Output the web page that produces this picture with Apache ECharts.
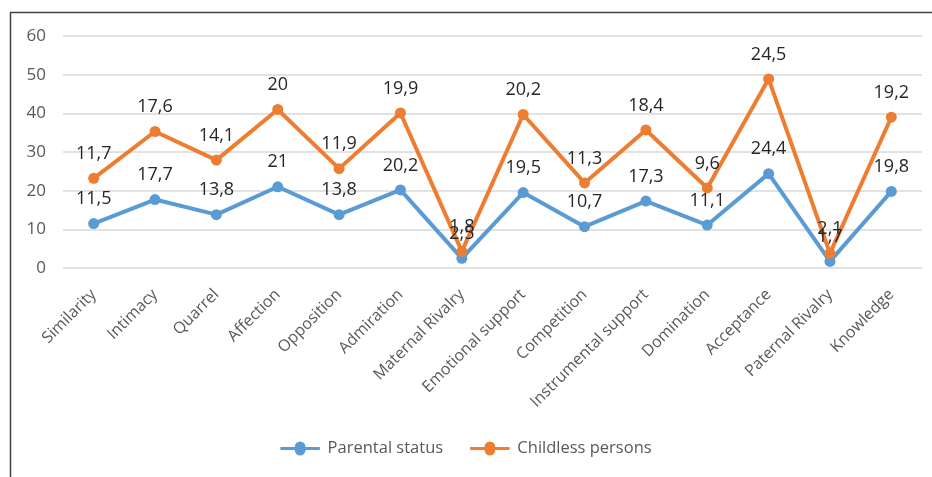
<!DOCTYPE html>
<html>
<head>
<meta charset="utf-8">
<script src="https://cdn.jsdelivr.net/npm/echarts@6/dist/echarts.min.js"></script>
<style>
html,body{margin:0;padding:0;background:#fff;}
#c{width:932px;height:477px;}
</style>
</head>
<body>
<div id="c"></div>
<script>
const categories = ['Similarity','Intimacy','Quarrel','Affection','Opposition','Admiration','Maternal Rivalry','Emotional support','Competition','Instrumental support','Domination','Acceptance','Paternal Rivalry','Knowledge'];
const parentalStatus = [11.5,17.7,13.8,21,13.8,20.2,2.5,19.5,10.7,17.3,11.1,24.4,1.7,19.8];
const childlessPersons = [11.7,17.6,14.1,20,11.9,19.9,1.8,20.2,11.3,18.4,9.6,24.5,2.1,19.2];
const yTicks = {min:0, max:60, interval:10};

const fmt = p => String(p.value).replace('.', ',');
const font = "'Open Sans', 'Noto Sans', sans-serif";

const chart = echarts.init(document.getElementById('c'));
chart.setOption({
  animation:false,
  backgroundColor:'#ffffff',
  textStyle:{fontFamily:font},
  graphic:[
    {type:'line', shape:{x1:10.5,y1:12.5,x2:10.5,y2:477}, style:{stroke:'#404040',lineWidth:1.5}},
    {type:'line', shape:{x1:10,y1:12.5,x2:932,y2:12.5}, style:{stroke:'#404040',lineWidth:1.5}}
  ],
  grid:{left:63,right:10,top:36,bottom:209,containLabel:false},
  legend:{
    top:435,
    left:'center',
    itemWidth:45,
    itemHeight:14,
    itemGap:27,
    textStyle:{color:'#595959',fontSize:16.5,fontFamily:font},
    data:[
      {name:'Parental status', icon:'path://M0,5.2 L16,5.2 A6,6 0 1 1 28,5.2 L44,5.2 L44,8.8 L28,8.8 A6,6 0 1 1 16,8.8 L0,8.8 Z'},
      {name:'Childless persons', icon:'path://M0,5.2 L16,5.2 A6,6 0 1 1 28,5.2 L44,5.2 L44,8.8 L28,8.8 A6,6 0 1 1 16,8.8 L0,8.8 Z'}
    ]
  },
  xAxis:{
    type:'category',
    data:categories,
    boundaryGap:true,
    axisLine:{show:false},
    axisTick:{show:false},
    axisLabel:{rotate:45,color:'#595959',fontSize:16,margin:24,interval:0,fontFamily:font}
  },
  yAxis:{
    type:'value',
    min:yTicks.min,max:yTicks.max,interval:yTicks.interval,
    axisLine:{show:false},
    axisTick:{show:false},
    axisLabel:{color:'#595959',fontSize:17,margin:17,fontFamily:font},
    splitLine:{lineStyle:{color:'#D9D9D9',width:1.5}}
  },
  series:[
    {
      name:'Parental status',
      type:'line',
      stack:'total',
      data:parentalStatus,
      symbol:'circle',
      symbolSize:11,
      lineStyle:{color:'#5B9BD5',width:4},
      itemStyle:{color:'#5B9BD5'},
      label:{show:true,position:'top',distance:10,formatter:fmt,color:'#262626',fontSize:18,fontFamily:font}
    },
    {
      name:'Childless persons',
      type:'line',
      stack:'total',
      data:childlessPersons,
      symbol:'circle',
      symbolSize:11,
      lineStyle:{color:'#ED7D31',width:4},
      itemStyle:{color:'#ED7D31'},
      label:{show:true,position:'top',distance:10,formatter:fmt,color:'#262626',fontSize:18,fontFamily:font}
    }
  ]
});
</script>
</body>
</html>
